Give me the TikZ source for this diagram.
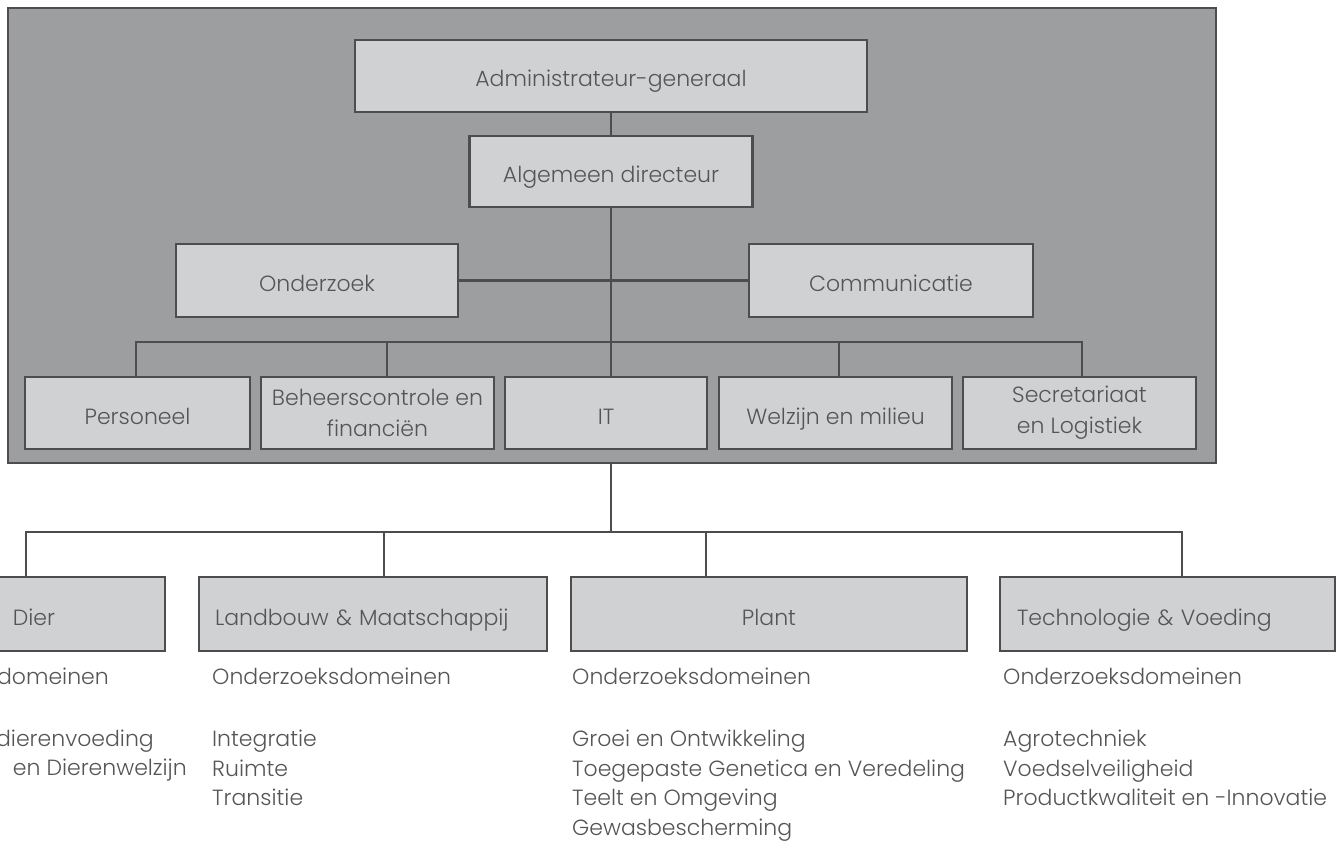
\documentclass[tikz,border=0pt]{standalone}
\usepackage{fontspec}
\setmainfont{Poppins Light}
\definecolor{org_grey}{RGB}{157,158,160}
\definecolor{org_box}{RGB}{208,209,211}
\definecolor{org_line}{RGB}{77,77,79}
\definecolor{org_text}{RGB}{85,85,87}
\tikzstyle{unitframe}=[rectangle,fill=org_grey,draw=org_line,line width=2.8pt,inner sep=0pt]
\tikzstyle{ub}=[rectangle,fill=org_box,draw=org_line,line width=2.8pt,inner sep=0pt,
  align=center,text=org_text,font=\fontsize{22}{31}\selectfont]
\tikzstyle{ub1}=[ub,text height=22pt,text depth=0pt]
\tikzstyle{ln}=[draw=org_line,line width=2.2pt]
\tikzstyle{txt}=[inner sep=0pt,text=org_text,font=\fontsize{22}{29.5}\selectfont,align=left]

\begin{document}
\begin{tikzpicture}[x=1pt,y=-1pt]
    \useasboundingbox (0,0) rectangle (1344,850);
    \clip (0,0) rectangle (1344,850);
    % central services
    \node [unitframe,minimum width=1208pt,minimum height=455pt] (ilvo) at (612,235.5) {};
    \coordinate (b1) at (136,342);
    \coordinate (b2) at (387,342);
    \coordinate (b4) at (839,342);
    \coordinate (b5) at (1082,342);
    \coordinate (c0) at (26,532);
    \coordinate (c1) at (384,532);
    \coordinate (c2) at (706,532);
    \coordinate (c4) at (1182,532);
    \node [ub1,minimum width=512pt,minimum height=72pt] (adm) at (611,76) {Administrateur-generaal};
    \node [ub1,minimum width=283pt,minimum height=71pt] (alg) at (611,171.5) {Algemeen directeur};
    \node [ub1,minimum width=282pt,minimum height=73pt] (onz) at (317,280.5) {Onderzoek};
    \node [ub1,minimum width=284pt,minimum height=73pt] (com) at (891,280.5) {Communicatie};
    \node [ub1,minimum width=225pt,minimum height=72pt] (pers) at (137.5,413) {Personeel};
    \node [ub,minimum width=233pt,minimum height=72pt] (beh) at (377.5,413) {Beheerscontrole en\\financiën};
    \node [ub1,minimum width=202pt,minimum height=72pt] (it) at (606,413) {IT};
    \node [ub1,minimum width=233pt,minimum height=72pt] (welz) at (835.5,413) {Welzijn en milieu};
    \node [ub,minimum width=233pt,minimum height=72pt] (secr) at (1079.5,413) {Secretariaat\\en Logistiek};
    % research units
    \node [ub1,minimum width=262pt,minimum height=74pt] (dier) at (34,614) {Dier};
    \node [ub1,minimum height=74pt,text width=316pt,inner xsep=16pt,align=left] (lm) at (373,614) {Landbouw \& Maatschappij};
    \node [ub1,minimum width=396pt,minimum height=74pt] (plant) at (769,614) {Plant};
    \node [ub1,minimum height=74pt,text width=301pt,inner xsep=17pt,align=left] (tv) at (1167.5,614) {Technologie \& Voeding};
    % research domains
    \node [txt,anchor=base east] (dier_h) at (109,684) {Onderzoeksdomeinen};
    \node [txt,anchor=base east] (dier_l1) at (154,746) {dierenvoeding};
    \node [txt,anchor=base east] (dier_l2) at (187,775.5) {en Dierenwelzijn};
    \node [txt,anchor=base west] (lm_h) at (212,684) {Onderzoeksdomeinen};
    \node [txt,anchor=north west] (lm_l) at (212,730) {Integratie\\Ruimte\\Transitie};
    \node [txt,anchor=base west] (plant_h) at (572,684) {Onderzoeksdomeinen};
    \node [txt,anchor=north west] (plant_l) at (572,730) {Groei en Ontwikkeling\\Toegepaste Genetica en Veredeling\\Teelt en Omgeving\\Gewasbescherming};
    \node [txt,anchor=base west] (tv_h) at (1003,684) {Onderzoeksdomeinen};
    \node [txt,anchor=north west] (tv_l) at (1003,730) {Agrotechniek\\Voedselveiligheid\\Productkwaliteit en -Innovatie};
    % connectors
    \draw [ln] (adm) -- (alg);
    \draw [ln] (alg) -- (alg |- it.north);
    \draw [ln] (onz) -- (com);
    \draw [ln] (b1 |- pers.north) -- (b1) -- (b5) -- (b5 |- secr.north);
    \draw [ln] (b2) -- (b2 |- beh.north);
    \draw [ln] (b4) -- (b4 |- welz.north);
    \draw [ln] (ilvo.south -| alg) -- (alg |- c0);
    \draw [ln] (c0 |- dier.north) -- (c0) -- (c4) -- (c4 |- tv.north);
    \draw [ln] (c1) -- (c1 |- lm.north);
    \draw [ln] (c2) -- (c2 |- plant.north);
\end{tikzpicture}
\end{document}
